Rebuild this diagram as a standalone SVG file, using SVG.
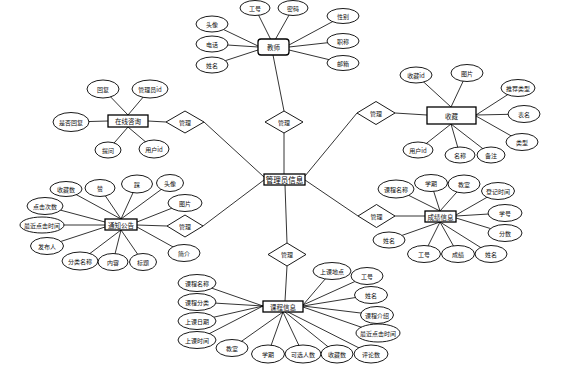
<svg xmlns="http://www.w3.org/2000/svg" width="576" height="377" viewBox="0 0 576 377">
<style>
.e{fill:#fff;stroke:#000;stroke-width:0.9}
.r{fill:#fff;stroke:#000;stroke-width:1.3}
.d{fill:#fff;stroke:#000;stroke-width:0.9}
.t{font-family:"Noto Sans CJK SC","Noto Sans",sans-serif;font-size:6px;text-anchor:middle;dominant-baseline:central;fill:#111}
.n{font-family:"Noto Sans CJK SC","Noto Sans",sans-serif;font-size:6.5px;text-anchor:middle;dominant-baseline:central;fill:#111}
.m{font-family:"Noto Sans CJK SC","Noto Sans",sans-serif;font-size:7.5px;text-anchor:middle;dominant-baseline:central;fill:#000}
#connectors line{stroke:#000;stroke-width:0.8}
</style>
<rect width="576" height="377" fill="#fff"/>
<g id="connectors">
<!-- center to diamonds -->
<line x1="284" y1="174" x2="284" y2="133"/>
<line x1="284" y1="111" x2="273" y2="55"/>
<line x1="264" y1="177" x2="204" y2="122"/>
<line x1="166" y1="122" x2="148" y2="121"/>
<line x1="264" y1="180" x2="203" y2="226"/>
<line x1="167" y1="226" x2="137" y2="225"/>
<line x1="305" y1="176" x2="357" y2="113"/>
<line x1="395" y1="113" x2="427" y2="115"/>
<line x1="305" y1="180" x2="358" y2="216"/>
<line x1="395" y1="216" x2="425" y2="216"/>
<line x1="285" y1="185" x2="287" y2="243"/>
<line x1="287" y1="266" x2="285" y2="301"/>
<!-- teacher -->
<line x1="255" y1="8" x2="271" y2="40"/>
<line x1="293" y1="8" x2="275" y2="40"/>
<line x1="212" y1="24" x2="258" y2="46"/>
<line x1="212" y1="44" x2="258" y2="47"/>
<line x1="212" y1="65" x2="258" y2="50"/>
<line x1="343" y1="16" x2="289" y2="45"/>
<line x1="343" y1="41" x2="289" y2="47"/>
<line x1="343" y1="63" x2="289" y2="50"/>
<!-- consult -->
<line x1="103" y1="89" x2="128" y2="115"/>
<line x1="150" y1="89" x2="128" y2="115"/>
<line x1="71" y1="122" x2="108" y2="121"/>
<line x1="108" y1="150" x2="128" y2="127"/>
<line x1="154" y1="149" x2="128" y2="127"/>
<!-- favorites -->
<line x1="416" y1="75" x2="451" y2="107"/>
<line x1="467" y1="73" x2="451" y2="107"/>
<line x1="518" y1="88" x2="476" y2="115"/>
<line x1="524" y1="114" x2="476" y2="115"/>
<line x1="522" y1="142" x2="476" y2="116"/>
<line x1="418" y1="150" x2="451" y2="124"/>
<line x1="460" y1="155" x2="451" y2="124"/>
<line x1="491" y1="155" x2="451" y2="124"/>
<!-- notice -->
<line x1="66" y1="189" x2="121" y2="219"/>
<line x1="100" y1="188" x2="121" y2="219"/>
<line x1="137" y1="184" x2="121" y2="219"/>
<line x1="170" y1="183" x2="121" y2="219"/>
<line x1="185" y1="203" x2="137" y2="222"/>
<line x1="45" y1="206" x2="105" y2="222"/>
<line x1="42" y1="225" x2="105" y2="225"/>
<line x1="47" y1="246" x2="105" y2="227"/>
<line x1="80" y1="261" x2="121" y2="230"/>
<line x1="113" y1="262" x2="121" y2="230"/>
<line x1="143" y1="262" x2="121" y2="230"/>
<line x1="184" y1="253" x2="137" y2="227"/>
<!-- grade -->
<line x1="396" y1="189" x2="440" y2="211"/>
<line x1="431" y1="183" x2="440" y2="211"/>
<line x1="464" y1="184" x2="440" y2="211"/>
<line x1="498" y1="191" x2="456" y2="215"/>
<line x1="505" y1="213" x2="456" y2="216"/>
<line x1="505" y1="233" x2="456" y2="218"/>
<line x1="389" y1="240" x2="440" y2="222"/>
<line x1="424" y1="254" x2="440" y2="222"/>
<line x1="458" y1="254" x2="440" y2="222"/>
<line x1="491" y1="254" x2="440" y2="222"/>
<!-- course -->
<line x1="197" y1="283" x2="263" y2="306"/>
<line x1="197" y1="302" x2="263" y2="306"/>
<line x1="197" y1="321" x2="263" y2="306"/>
<line x1="197" y1="340" x2="263" y2="306"/>
<line x1="232" y1="348" x2="283" y2="312"/>
<line x1="268" y1="354" x2="283" y2="312"/>
<line x1="303" y1="354" x2="283" y2="312"/>
<line x1="337" y1="354" x2="285" y2="312"/>
<line x1="371" y1="354" x2="288" y2="312"/>
<line x1="378" y1="333" x2="303" y2="307"/>
<line x1="377" y1="315" x2="303" y2="306"/>
<line x1="371" y1="295" x2="303" y2="306"/>
<line x1="367" y1="276" x2="303" y2="305"/>
<line x1="332" y1="271" x2="303" y2="305"/>
</g>

<g id="admin"><rect class="r" x="264" y="174" width="41" height="11"/><text class="m" x="284.5" y="179.5">管理员信息</text></g>

<g id="rel-teacher"><polygon class="d" points="284,111 303,122 284,133 265,122"/><text class="t" x="284" y="122">管理</text></g>
<g id="rel-consult"><polygon class="d" points="185,111 204,122 185,133 166,122"/><text class="t" x="185" y="122">管理</text></g>
<g id="rel-notice"><polygon class="d" points="185,215 203,226 185,237 167,226"/><text class="t" x="185" y="226">管理</text></g>
<g id="rel-fav"><polygon class="d" points="376,101.5 395,113 376,124.5 357,113"/><text class="t" x="376" y="113">管理</text></g>
<g id="rel-grade"><polygon class="d" points="376.5,204.5 395,216 376.5,227.5 358,216"/><text class="t" x="376.5" y="216">管理</text></g>
<g id="rel-course"><polygon class="d" points="287,243 306,254.5 287,266 268,254.5"/><text class="t" x="287" y="254.5">管理</text></g>

<g id="teacher">
<rect class="r" x="258" y="39" width="31" height="16" rx="3"/><text class="n" x="273.5" y="47">教师</text>
<ellipse class="e" cx="255" cy="8" rx="15" ry="7.5"/><text class="t" x="255" y="8">工号</text>
<ellipse class="e" cx="293" cy="8" rx="15" ry="7.5"/><text class="t" x="293" y="8">密码</text>
<ellipse class="e" cx="212" cy="24" rx="16" ry="8"/><text class="t" x="212" y="24">头像</text>
<ellipse class="e" cx="212" cy="44" rx="16" ry="8"/><text class="t" x="212" y="44">电话</text>
<ellipse class="e" cx="212" cy="65" rx="16" ry="8"/><text class="t" x="212" y="65">姓名</text>
<ellipse class="e" cx="343" cy="16" rx="16" ry="7.5"/><text class="t" x="343" y="16">性别</text>
<ellipse class="e" cx="343" cy="41" rx="16" ry="7.5"/><text class="t" x="343" y="41">职称</text>
<ellipse class="e" cx="343" cy="63" rx="16" ry="7.5"/><text class="t" x="343" y="63">邮箱</text>
</g>

<g id="consult">
<rect class="r" x="108" y="115" width="40" height="12"/><text class="n" x="128" y="121">在线咨询</text>
<ellipse class="e" cx="103" cy="89" rx="16" ry="9"/><text class="t" x="103" y="89">回复</text>
<ellipse class="e" cx="150" cy="89" rx="18" ry="9"/><text class="t" x="150" y="89">管理员id</text>
<ellipse class="e" cx="71" cy="122" rx="18" ry="9.5"/><text class="t" x="71" y="122">是否回复</text>
<ellipse class="e" cx="108" cy="150" rx="13" ry="8"/><text class="t" x="108" y="150">提问</text>
<ellipse class="e" cx="154" cy="149" rx="15" ry="9"/><text class="t" x="154" y="149">用户id</text>
</g>

<g id="favorites">
<rect class="r" x="427" y="107" width="49" height="17"/><text class="n" x="451.5" y="115.5">收藏</text>
<ellipse class="e" cx="416" cy="75" rx="16" ry="8"/><text class="t" x="416" y="75">收藏id</text>
<ellipse class="e" cx="467" cy="73" rx="16" ry="8.5"/><text class="t" x="467" y="73">图片</text>
<ellipse class="e" cx="518" cy="88" rx="17" ry="8.5"/><text class="t" x="518" y="88">推荐类型</text>
<ellipse class="e" cx="524" cy="114" rx="16" ry="8.5"/><text class="t" x="524" y="114">表名</text>
<ellipse class="e" cx="522" cy="142" rx="16" ry="8.5"/><text class="t" x="522" y="142">类型</text>
<ellipse class="e" cx="418" cy="150" rx="15" ry="8"/><text class="t" x="418" y="150">用户id</text>
<ellipse class="e" cx="460" cy="155" rx="15" ry="8"/><text class="t" x="460" y="155">名称</text>
<ellipse class="e" cx="491" cy="155" rx="14" ry="8"/><text class="t" x="491" y="155">备注</text>
</g>

<g id="notice">
<rect class="r" x="105" y="219" width="32" height="11"/><text class="n" x="121" y="224.5">通知公告</text>
<ellipse class="e" cx="66" cy="189" rx="16" ry="7.5"/><text class="t" x="66" y="189">收藏数</text>
<ellipse class="e" cx="100" cy="188" rx="15" ry="8.5"/><text class="t" x="100" y="188">赞</text>
<ellipse class="e" cx="137" cy="184" rx="15.5" ry="9"/><text class="t" x="137" y="184">踩</text>
<ellipse class="e" cx="170" cy="183" rx="13.5" ry="8.5"/><text class="t" x="170" y="183">头像</text>
<ellipse class="e" cx="185" cy="203" rx="17" ry="8.5"/><text class="t" x="185" y="203">图片</text>
<ellipse class="e" cx="45" cy="206" rx="18" ry="8.5"/><text class="t" x="45" y="206">点击次数</text>
<ellipse class="e" cx="42" cy="225" rx="22" ry="8"/><text class="t" x="42" y="225">最近点击时间</text>
<ellipse class="e" cx="47" cy="246" rx="16.5" ry="8.5"/><text class="t" x="47" y="246">发布人</text>
<ellipse class="e" cx="80" cy="261" rx="18" ry="9"/><text class="t" x="80" y="261">分类名称</text>
<ellipse class="e" cx="113" cy="262" rx="15" ry="8.5"/><text class="t" x="113" y="262">内容</text>
<ellipse class="e" cx="143" cy="262" rx="13.5" ry="8.5"/><text class="t" x="143" y="262">标题</text>
<ellipse class="e" cx="184" cy="253" rx="16" ry="8.5"/><text class="t" x="184" y="253">简介</text>
</g>

<g id="grade">
<rect class="r" x="425" y="211" width="31" height="11"/><text class="n" x="440.5" y="216.5">成绩信息</text>
<ellipse class="e" cx="396" cy="189" rx="18" ry="9"/><text class="t" x="396" y="189">课程名称</text>
<ellipse class="e" cx="431" cy="183" rx="16.5" ry="8.5"/><text class="t" x="431" y="183">学期</text>
<ellipse class="e" cx="464" cy="184" rx="16" ry="9"/><text class="t" x="464" y="184">教室</text>
<ellipse class="e" cx="498" cy="191" rx="16.5" ry="8.5"/><text class="t" x="498" y="191">登记时间</text>
<ellipse class="e" cx="505" cy="213" rx="17" ry="8.5"/><text class="t" x="505" y="213">学号</text>
<ellipse class="e" cx="505" cy="233" rx="17" ry="8.5"/><text class="t" x="505" y="233">分数</text>
<ellipse class="e" cx="389" cy="240" rx="16" ry="8"/><text class="t" x="389" y="240">姓名</text>
<ellipse class="e" cx="424" cy="254" rx="16.5" ry="8.5"/><text class="t" x="424" y="254">工号</text>
<ellipse class="e" cx="458" cy="254" rx="16.5" ry="8.5"/><text class="t" x="458" y="254">成绩</text>
<ellipse class="e" cx="491" cy="254" rx="16" ry="8.5"/><text class="t" x="491" y="254">姓名</text>
</g>

<g id="course">
<rect class="r" x="263" y="301" width="40" height="11"/><text class="n" x="283" y="306.5">课程信息</text>
<ellipse class="e" cx="197" cy="283" rx="19" ry="8.5"/><text class="t" x="197" y="283">课程名称</text>
<ellipse class="e" cx="197" cy="302" rx="19" ry="8.5"/><text class="t" x="197" y="302">课程分类</text>
<ellipse class="e" cx="197" cy="321" rx="19" ry="8.5"/><text class="t" x="197" y="321">上课日期</text>
<ellipse class="e" cx="197" cy="340" rx="19" ry="8.5"/><text class="t" x="197" y="340">上课时间</text>
<ellipse class="e" cx="232" cy="348" rx="16" ry="8.5"/><text class="t" x="232" y="348">教室</text>
<ellipse class="e" cx="268" cy="354" rx="16.5" ry="9"/><text class="t" x="268" y="354">学期</text>
<ellipse class="e" cx="303" cy="354" rx="18" ry="9"/><text class="t" x="303" y="354">可选人数</text>
<ellipse class="e" cx="337" cy="354" rx="16" ry="9"/><text class="t" x="337" y="354">收藏数</text>
<ellipse class="e" cx="371" cy="354" rx="17" ry="9"/><text class="t" x="371" y="354">评论数</text>
<ellipse class="e" cx="378" cy="333" rx="22" ry="9"/><text class="t" x="378" y="333">最近点击时间</text>
<ellipse class="e" cx="377" cy="315" rx="16.5" ry="8.5"/><text class="t" x="377" y="315">课程介绍</text>
<ellipse class="e" cx="371" cy="295" rx="16.5" ry="8.5"/><text class="t" x="371" y="295">姓名</text>
<ellipse class="e" cx="367" cy="276" rx="16" ry="8.5"/><text class="t" x="367" y="276">工号</text>
<ellipse class="e" cx="332" cy="271" rx="19" ry="8.5"/><text class="t" x="332" y="271">上课地点</text>
</g>
</svg>
